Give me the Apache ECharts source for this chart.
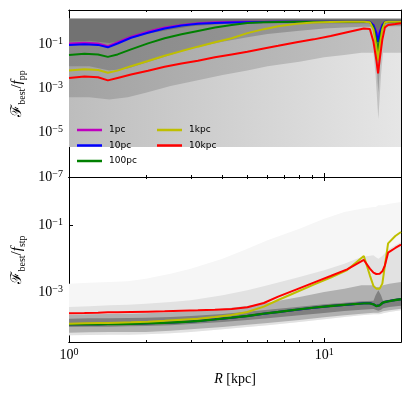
<!DOCTYPE html>
<html><head><meta charset="utf-8">
<script src="https://cdn.jsdelivr.net/npm/echarts@6/dist/echarts.min.js"></script>
<style>html,body{margin:0;padding:0;background:#fff}#c{width:412px;height:394px}</style>
</head><body><div id="c"></div><script>
// ---------- data ----------
const R = [1.0,1.15,1.3,1.42,1.55,1.75,2.04,2.37,2.76,3.2,3.73,4.34,5.0,5.8,6.6,7.8,9.1,10.6,12.3,14.3,15.1,15.6,16.0,16.26,16.5,16.9,17.3,17.8,19,20];
// top panel: F_best / f_pp
const top1pc   = [0.105,0.115,0.105,0.0794,0.120,0.214,0.363,0.550,0.724,0.871,0.955,0.977,1,1,1,1,1,1,1,1,1,0.759,0.355,0.158,0.355,0.759,1,1,1,1];
const top10pc  = [0.0891,0.0977,0.0912,0.0708,0.105,0.191,0.324,0.501,0.676,0.813,0.891,0.933,0.955,0.977,1,1,1,1,1,1,1,0.708,0.316,0.126,0.316,0.708,1,1,1,1];
const top100pc = [0.0316,0.0363,0.0339,0.0263,0.0339,0.0575,0.107,0.182,0.275,0.389,0.550,0.724,0.891,0.955,0.977,1,1,1,1,1,0.977,0.562,0.141,0.0355,0.141,0.562,0.977,1,1,1];
const top1kpc  = [0.00631,0.00724,0.00676,0.00501,0.00631,0.0100,0.0170,0.0295,0.0479,0.0759,0.120,0.182,0.309,0.468,0.631,0.813,0.933,0.977,1,1,0.955,0.447,0.0794,0.0178,0.0794,0.447,0.955,1,1,1];
const top10kpc = [0.00295,0.00339,0.00316,0.00229,0.00295,0.00417,0.00617,0.00933,0.0132,0.0174,0.0251,0.0339,0.0447,0.0631,0.0832,0.120,0.162,0.229,0.339,0.501,0.479,0.126,0.0200,0.00468,0.0200,0.158,0.562,0.724,0.794,0.871];
// bottom panel: F_best / f_stp
const bot1pc   = [1.07e-4,1.07e-4,1.07e-4,1.10e-4,1.10e-4,1.12e-4,1.15e-4,1.20e-4,1.26e-4,1.35e-4,1.51e-4,1.70e-4,1.91e-4,2.24e-4,2.51e-4,2.95e-4,3.39e-4,3.80e-4,4.17e-4,4.57e-4,4.57e-4,4.27e-4,3.80e-4,3.72e-4,3.98e-4,4.68e-4,5.01e-4,5.25e-4,5.75e-4,6.03e-4];
const bot10pc  = [1.07e-4,1.07e-4,1.07e-4,1.10e-4,1.10e-4,1.12e-4,1.15e-4,1.20e-4,1.26e-4,1.35e-4,1.51e-4,1.70e-4,1.91e-4,2.24e-4,2.51e-4,2.95e-4,3.39e-4,3.80e-4,4.17e-4,4.57e-4,4.57e-4,4.27e-4,3.80e-4,3.72e-4,3.98e-4,4.68e-4,5.01e-4,5.25e-4,5.75e-4,6.03e-4];
const bot100pc = [1.07e-4,1.07e-4,1.07e-4,1.10e-4,1.10e-4,1.12e-4,1.15e-4,1.20e-4,1.26e-4,1.35e-4,1.51e-4,1.70e-4,1.91e-4,2.24e-4,2.51e-4,2.95e-4,3.39e-4,3.80e-4,4.17e-4,4.57e-4,4.57e-4,4.27e-4,3.80e-4,3.72e-4,3.98e-4,4.68e-4,5.01e-4,5.25e-4,5.75e-4,6.03e-4];
const bot1kpc  = [1.12e-4,1.15e-4,1.17e-4,1.17e-4,1.20e-4,1.23e-4,1.29e-4,1.38e-4,1.48e-4,1.58e-4,1.78e-4,2.04e-4,2.51e-4,3.63e-4,5.75e-4,1.00e-3,1.66e-3,2.69e-3,4.57e-3,0.0120,3.16e-3,1.51e-3,1.26e-3,1.20e-3,1.26e-3,1.78e-3,6.31e-3,0.0288,0.0479,0.0631];
const bot10kpc = [2.29e-4,2.34e-4,2.40e-4,2.45e-4,2.45e-4,2.51e-4,2.57e-4,2.63e-4,2.75e-4,2.82e-4,2.95e-4,3.09e-4,3.47e-4,4.68e-4,7.24e-4,1.20e-3,1.91e-3,3.02e-3,4.79e-3,9.12e-3,5.01e-3,3.80e-3,3.47e-3,3.39e-3,3.55e-3,4.17e-3,6.31e-3,0.0151,0.0209,0.0263];

// background 2D-histogram density bands (log10 of band edges)
const bgR = [1,1.2,1.44,1.7,2,2.5,3,4,5,6,8,10,12,14,15.6,15.9,16.3,16.7,17.0,18,20];
const topBgHiExp = [0.14,0.14,0.14,0.14,0.14,0.14,0.14,0.14,0.14,0.14,0.14,0.14,0.14,0.14,0.14,0.14,0.14,0.14,0.14,0.14,0.14];
const topBgLoA = [-5.65,-5.65,-5.65,-5.65,-5.65,-5.65,-5.65,-5.65,-5.65,-5.65,-5.65,-5.65,-5.65,-5.65,-5.65,-5.65,-5.65,-5.65,-5.65,-5.65,-5.65];
const topBgLoB = [-3.4,-3.4,-3.5,-3.4,-3.2,-2.9,-2.7,-2.4,-2.2,-2.0,-1.8,-1.6,-1.5,-1.4,-1.4,-2.4,-4.4,-2.4,-1.4,-1.4,-1.4];
const topBgLoC = [-2.0,-2.0,-2.2,-2.1,-1.85,-1.5,-1.2,-0.9,-0.7,-0.55,-0.4,-0.3,-0.25,-0.22,-0.22,-1.2,-3.2,-1.2,-0.22,-0.2,-0.2];
const topBgLoD = [-0.9,-0.85,-0.95,-0.8,-0.55,-0.35,-0.2,-0.1,-0.06,-0.06,-0.06,-0.06,-0.06,-0.06,-0.06,-0.3,-1.2,-0.3,-0.06,-0.06,-0.06];
const botBgLoA = [-4.3,-4.29,-4.28,-4.28,-4.27,-4.24,-4.2,-4.12,-4.05,-4.0,-3.9,-3.82,-3.75,-3.7,-3.67,-3.67,-3.67,-3.66,-3.64,-3.6,-3.55];
const botBgHiA = [-2.75,-2.72,-2.7,-2.68,-2.6,-2.45,-2.3,-2.0,-1.7,-1.45,-1.1,-0.8,-0.6,-0.5,-0.45,-0.45,-0.4,-0.4,-0.4,-0.35,-0.3];
const botBgHiB = [-3.45,-3.43,-3.4,-3.38,-3.35,-3.3,-3.25,-3.1,-2.95,-2.8,-2.55,-2.35,-2.15,-1.95,-1.9,-1.95,-2.0,-1.95,-1.9,-1.7,-1.5];
const botBgLoC = [-4.22,-4.21,-4.2,-4.2,-4.2,-4.16,-4.12,-4.05,-3.98,-3.93,-3.84,-3.76,-3.7,-3.65,-3.62,-3.62,-3.62,-3.6,-3.58,-3.55,-3.5];
const botBgHiC = [-3.68,-3.67,-3.66,-3.65,-3.64,-3.61,-3.58,-3.5,-3.42,-3.32,-3.15,-3.0,-2.9,-2.8,-2.8,-2.85,-2.85,-2.85,-2.8,-2.75,-2.7];
const botBgLoD = [-4.05,-4.04,-4.04,-4.03,-4.02,-4.0,-3.96,-3.9,-3.84,-3.79,-3.7,-3.63,-3.57,-3.53,-3.51,-3.53,-3.56,-3.53,-3.49,-3.45,-3.41];
const botBgHiD = [-3.8,-3.79,-3.79,-3.78,-3.77,-3.75,-3.72,-3.66,-3.59,-3.53,-3.44,-3.37,-3.32,-3.28,-3.26,-3.1,-2.95,-3.1,-3.26,-3.23,-3.18];

const xTicksMinor = [2,3,4,5,6,7,8,9];
const xTicksMajor = [1,10];
const topYTicks = [1e-7,1e-5,1e-3,1e-1];
const botYTicks = [1e-3,1e-1];

// ---------- chart ----------
const colors = {'1pc':'#bf00bf','10pc':'#0000ff','100pc':'#008000','1kpc':'#bfbf00','10kpc':'#ff0000'};
const SERIF = 'Liberation Serif';
const grad = (a,b) => new echarts.graphic.LinearGradient(0,0,1,0,[{offset:0,color:a},{offset:1,color:b}]);
const pow10 = e => Math.pow(10, e);

const topLayers = [
  {hi:topBgHiExp, lo:topBgLoA, fill:grad('#bdbdbd','#e6e6e6')},
  {hi:topBgHiExp, lo:topBgLoB, fill:grad('#a2a2a2','#c4c4c4')},
  {hi:topBgHiExp, lo:topBgLoC, fill:grad('#888888','#9c9c9c')},
  {hi:topBgHiExp, lo:topBgLoD, fill:'#727272'}
];
const botLayers = [
  {hi:botBgHiA, lo:botBgLoA, fill:'#f6f6f6'},
  {hi:botBgHiB, lo:botBgLoA, fill:'#e2e2e2'},
  {hi:botBgHiC, lo:botBgLoC, fill:'#b0b0b0'},
  {hi:botBgHiD, lo:botBgLoD, fill:'#808080'}
];

function bgSeries(layers, xi, yi) {
  return {
    type:'custom', xAxisIndex:xi, yAxisIndex:yi, silent:true, z:1, animation:false,
    data: layers.map((L,k)=>[bgR[0], pow10(L.lo[0]), k]),
    encode:{x:0, y:1},
    renderItem(params, api) {
      const L = layers[api.value(2)];
      const pts = [];
      for (let i=0;i<bgR.length;i++) pts.push(api.coord([bgR[i], pow10(L.hi[i])]));
      for (let i=bgR.length-1;i>=0;i--) pts.push(api.coord([bgR[i], pow10(L.lo[i])]));
      return {type:'polygon', shape:{points:pts}, style:{fill:L.fill}};
    }
  };
}
function lineSeries(name, ys, xi, yi, w) {
  return {type:'line', name, xAxisIndex:xi, yAxisIndex:yi, data:R.map((r,i)=>[r, ys[i]]),
    symbol:'none', showSymbol:false, z:3, animation:false,
    lineStyle:{width:w || 2, color:colors[name]}, itemStyle:{color:colors[name]}};
}
function powLabel(v) {
  const e = Math.round(Math.log10(v));
  return '{b|10}{s|' + (e < 0 ? '\u2212' + (-e) : e) + '}';
}
const labelRich = {
  b:{fontFamily:SERIF, fontSize:14, color:'#000', lineHeight:16},
  s:{fontFamily:SERIF, fontSize:10, color:'#000', verticalAlign:'top', lineHeight:10}
};
function xAx(gi, pos, ticks, len, labels, name) {
  const a = {type:'log', logBase:10, gridIndex:gi, position:pos, min:1, max:20,
    axisLine:{show:true, onZero:false, lineStyle:{color:'#000', width:1}},
    axisTick:{show:true, inside:true, length:len, customValues:ticks, lineStyle:{color:'#000', width:1}},
    axisLabel:{show:false}, splitLine:{show:false}, minorTick:{show:false}, minorSplitLine:{show:false}};
  if (labels) a.axisLabel = {show:true, customValues:xTicksMajor, margin:5, formatter:powLabel, rich:labelRich};
  if (name) {
    a.name = '{i|R} [kpc]'; a.nameLocation = 'middle'; a.nameGap = 30;
    a.nameTextStyle = {rich:{i:{fontFamily:SERIF, fontSize:14, fontStyle:'italic', color:'#000'}}, fontFamily:SERIF, fontSize:14, color:'#000'};
  }
  return a;
}
function yAx(gi, pos, min, max, ticks, labels, sub) {
  const a = {type:'log', logBase:10, gridIndex:gi, position:pos, min, max,
    axisLine:{show:true, onZero:false, lineStyle:{color:'#000', width:1}},
    axisTick:{show:true, inside:true, length:4, customValues:ticks, lineStyle:{color:'#000', width:1}},
    axisLabel:{show:false}, splitLine:{show:false}, minorTick:{show:false}, minorSplitLine:{show:false}};
  if (labels) {
    a.axisLabel = {show:true, customValues:ticks, margin:6, formatter:powLabel, rich:labelRich};
    a.name = '{F|\u2131}{sub|best}{t|/}{f|f}{sub|' + sub + '}';
    a.nameLocation = 'middle'; a.nameGap = 38; a.nameRotate = 90;
    a.nameTextStyle = {rich:{
      F:{fontFamily:'DejaVu Serif', fontSize:15, color:'#000', lineHeight:20},
      sub:{fontFamily:SERIF, fontSize:10, color:'#000', verticalAlign:'bottom', lineHeight:14},
      t:{fontFamily:SERIF, fontSize:15, color:'#000', lineHeight:20},
      f:{fontFamily:SERIF, fontSize:15, fontStyle:'italic', color:'#000', lineHeight:20}
    }};
  }
  return a;
}

const chart = echarts.init(document.getElementById('c'), null, {renderer:'canvas', width:412, height:394});
const legendCommon = {orient:'vertical', top:125, icon:'rect', itemWidth:25, itemHeight:2.5, itemGap:5.5, padding:0,
  textStyle:{fontFamily:'DejaVu Sans', fontSize:9, color:'#000', lineHeight:10, padding:[0,0,0,2]}, selectedMode:false};
chart.setOption({
  animation:false,
  backgroundColor:'#fff',
  grid:[
    {left:69, right:11, top:10, height:167, show:false, outerBoundsMode:'none', containLabel:false},
    {left:69, right:11, top:177, height:165, show:false, outerBoundsMode:'none', containLabel:false}
  ],
  legend:[
    Object.assign({left:77, data:['1pc','10pc','100pc']}, legendCommon),
    Object.assign({left:157, data:['1kpc','10kpc']}, legendCommon)
  ],
  xAxis:[
    xAx(0,'bottom',xTicksMinor,2,false,false),
    xAx(0,'bottom',xTicksMajor,4,false,false),
    xAx(0,'top',xTicksMinor,2,false,false),
    xAx(0,'top',xTicksMajor,4,false,false),
    xAx(1,'bottom',xTicksMinor,2,false,false),
    xAx(1,'bottom',xTicksMajor,4,true,true),
    xAx(1,'top',xTicksMinor,2,false,false),
    xAx(1,'top',xTicksMajor,4,false,false)
  ],
  yAxis:[
    yAx(0,'left',1e-7,3.42,topYTicks,true,'pp'),
    yAx(0,'right',1e-7,3.42,topYTicks,false),
    yAx(1,'left',3.162e-5,2.81,botYTicks,true,'stp'),
    yAx(1,'right',3.162e-5,2.81,botYTicks,false)
  ],
  series:[
    bgSeries(topLayers,0,0),
    lineSeries('1pc',top1pc,0,0),
    lineSeries('10pc',top10pc,0,0),
    lineSeries('100pc',top100pc,0,0),
    lineSeries('1kpc',top1kpc,0,0),
    lineSeries('10kpc',top10kpc,0,0),
    bgSeries(botLayers,4,2),
    lineSeries('1pc',bot1pc,4,2),
    lineSeries('10pc',bot10pc,4,2),
    lineSeries('100pc',bot100pc,4,2,2.4),
    lineSeries('1kpc',bot1kpc,4,2),
    lineSeries('10kpc',bot10kpc,4,2)
  ]
});
</script></body></html>
